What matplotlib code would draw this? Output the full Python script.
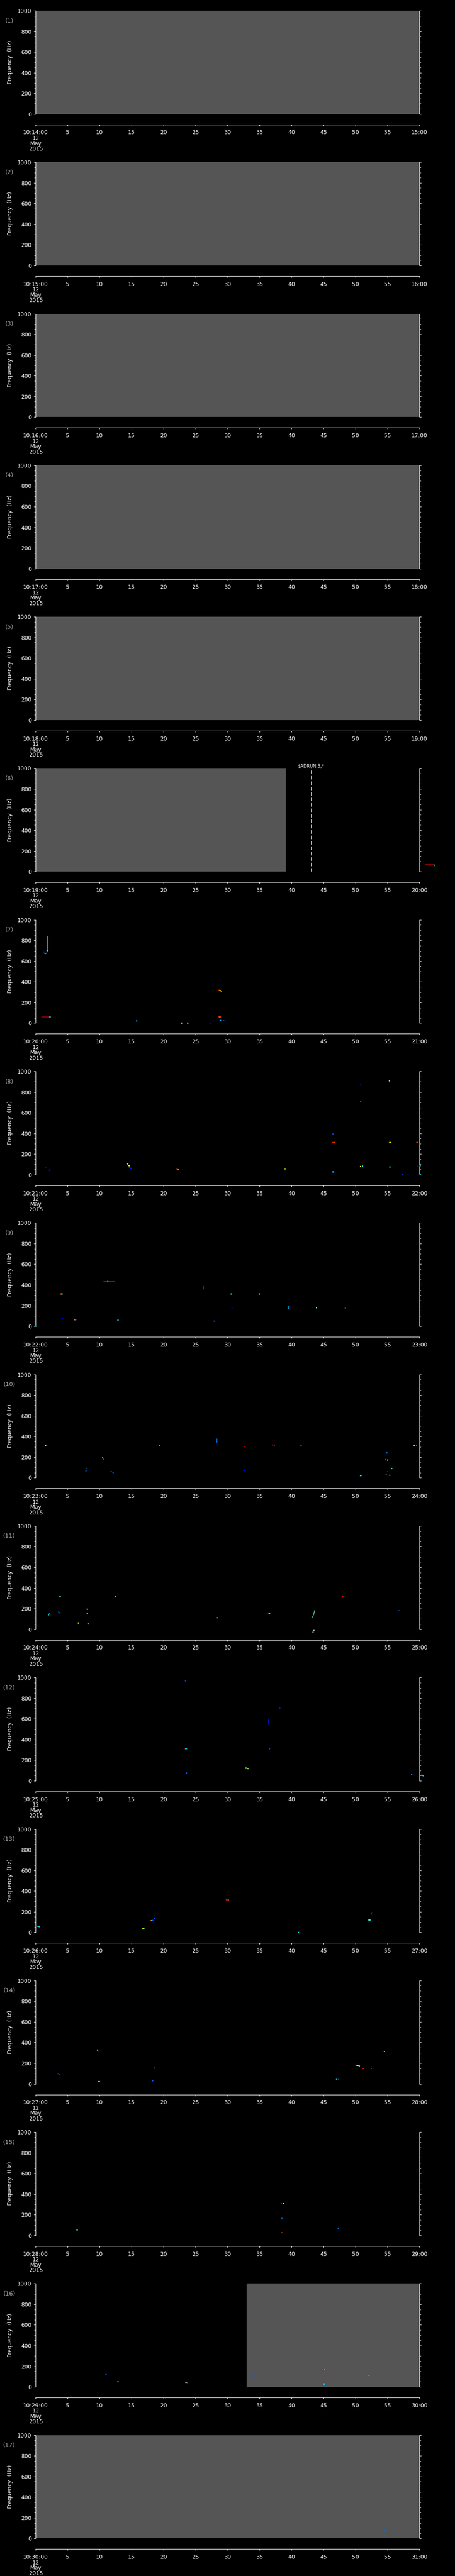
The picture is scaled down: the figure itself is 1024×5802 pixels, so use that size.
import matplotlib
matplotlib.use("Agg")
import matplotlib.pyplot as plt
from matplotlib.ticker import MultipleLocator, FixedLocator

plt.rcParams['font.family'] = ['DejaVu Sans']
plt.rcParams['lines.scale_dashes'] = False

# panel start minutes (10:14 ... 10:30, 12 May 2015)
start_minutes = list(range(14, 31))

# grey "no data" spans per panel number, seconds
grey_spans = {1: (0, 60), 2: (0, 60), 3: (0, 60), 4: (0, 60), 5: (0, 60),
              6: (0, 39.1), 16: (33.0, 60), 17: (0, 60)}

# event marker in panel 6
event_time = 43.05
event_label = "$ADRUN,3,*"

# spectrogram dots: seconds, Hz, colour level (jet 0..1)
dot_times = {
    6: [62.3, 62.3],
    7: [1.3, 1.45, 1.6, 1.7, 1.8, 2.25, 2.3, 15.8, 22.8, 23.8, 27.3, 28.7, 28.85, 29.0,
        28.7, 28.9, 29.1, 28.9, 29.1, 29.4],
    8: [1.6, 2.2, 14.4, 14.6, 14.7, 14.9, 22.1, 22.3, 39.0, 46.5, 46.5, 46.7, 46.5, 46.8,
        50.8, 50.8, 50.8, 51.1, 55.3, 55.3, 55.45, 55.4, 57.3, 59.6, 59.8, 59.8, 60.1, 60.1],
    9: [11.3, 4.0, 4.15, 30.6, 35.0, 30.7, 43.9, 48.4, 4.2, 6.1, 6.3, 12.9, 27.8, 28.0, 0.1],
    10: [1.6, 19.4, 32.6, 37.0, 37.3, 41.5, 59.2, 59.5, 10.5, 10.6, 8.0, 7.9, 11.8, 12.1,
         32.6, 50.8, 51.0, 54.8, 54.9, 54.7, 55.0, 55.7, 55.0, 54.8, 55.3, 55.5],
    11: [3.7, 3.85, 3.6, 3.8, 12.5, 8.1, 8.1, 6.7, 8.3, 28.4, 36.4, 36.6, 48.0, 48.2, 56.8],
    12: [23.4, 38.2, 23.4, 23.6, 36.6, 32.9, 33.2, 23.6, 58.8, 60.4, 60.6],
    13: [0.4, 0.6, 16.7, 16.9, 18.1, 18.3, 18.6, 29.8, 30.1, 41.1, 52.1, 52.3],
    14: [3.5, 3.7, 9.7, 9.9, 9.8, 10.0, 10.2, 18.6, 18.3, 47.0, 47.3, 50.1, 50.4, 50.6,
         51.2, 52.5, 54.3, 54.5],
    15: [6.5, 38.4, 38.7, 38.5, 38.5, 47.3],
    16: [11.0, 12.9, 23.5, 23.7, 33.9, 45.2, 45.0, 45.1, 45.3, 52.1],
    17: [54.5],
}
dot_freqs = {
    6: [62, 57],
    7: [690, 673, 673, 690, 700, 61, 56, 21, 0, 0, 0, 319, 316, 304,
        61, 59, 57, 26, 26, 24],
    8: [72, 43, 104, 88, 72, 62, 56, 53, 56, 395, 310, 310, 26, 22,
        867, 709, 78, 83, 909, 310, 310, 74, 2, 310, 317, 82, 85, 2],
    9: [432, 312, 312, 312, 312, 173, 178, 173, 77, 62, 62, 59, 48, 50, 0],
    10: [314, 312, 302, 317, 310, 309, 314, 314, 194, 181, 91, 66, 61, 51,
         70, 22, 22, 242, 240, 176, 171, 90, 58, 29, 24, 23],
    11: [320, 320, 168, 160, 317, 194, 155, 61, 51, 112, 154, 154, 315, 315, 179],
    12: [966, 704, 309, 309, 309, 123, 117, 74, 61, 54, 50],
    13: [56, 54, 40, 38, 112, 114, 136, 317, 312, 0, 120, 118],
    14: [99, 89, 327, 316, 23, 23, 23, 153, 31, 48, 48, 179, 179, 173,
         148, 148, 311, 311],
    15: [53, 308, 308, 170, 25, 64],
    16: [120, 51, 43, 41, 99, 168, 66, 28, 28, 112],
    17: [76],
}
dot_levels = {
    6: [0.4, 0.4],
    7: [0.3, 0.3, 0.25, 0.3, 0.35, 0.4, 0.4, 0.3, 0.4, 0.4, 0.15, 0.85, 0.65, 0.85,
        0.85, 0.85, 0.2, 0.3, 0.35, 0.2],
    8: [0.15, 0.15, 0.5, 0.65, 0.2, 0.15, 0.85, 0.35, 0.65, 0.2, 0.9, 0.85, 0.35, 0.2,
        0.2, 0.2, 0.65, 0.4, 0.5, 0.8, 0.65, 0.35, 0.2, 0.85, 0.2, 0.2, 0.35, 0.35],
    9: [0.35, 0.8, 0.4, 0.35, 0.45, 0.15, 0.45, 0.6, 0.15, 0.8, 0.2, 0.35, 0.15, 0.2, 0.35],
    10: [0.65, 0.8, 0.9, 0.88, 0.4, 0.88, 0.5, 0.88, 0.65, 0.2, 0.4, 0.2, 0.35, 0.2,
         0.15, 0.35, 0.2, 0.2, 0.25, 0.9, 0.35, 0.4, 0.2, 0.5, 0.2, 0.15],
    11: [0.5, 0.45, 0.2, 0.2, 0.4, 0.35, 0.4, 0.65, 0.3, 0.3, 0.88, 0.4, 0.88, 0.4, 0.25],
    12: [0.2, 0.15, 0.8, 0.3, 0.2, 0.6, 0.5, 0.2, 0.25, 0.35, 0.3],
    13: [0.35, 0.3, 0.65, 0.5, 0.7, 0.2, 0.2, 0.9, 0.8, 0.35, 0.45, 0.35],
    14: [0.15, 0.2, 0.75, 0.25, 0.6, 0.3, 0.2, 0.4, 0.2, 0.4, 0.2, 0.7, 0.6, 0.4,
         0.88, 0.2, 0.88, 0.4],
    15: [0.38, 0.88, 0.65, 0.25, 0.8, 0.25],
    16: [0.2, 0.8, 0.65, 0.2, 0.2, 0.4, 0.2, 0.35, 0.2, 0.35],
    17: [0.25],
}

# short streaks: (panel, [times], [freqs], level)
streaks = [
    (6, [60.9, 62.2], [68, 68], 0.92),
    (7, [1.85, 1.85], [701, 844], 0.45),
    (7, [0.9, 2.1], [64, 64], 0.92),
    (9, [10.6, 12.3], [435, 435], 0.2),
    (9, [26.2, 26.2], [360, 387], 0.25),
    (9, [39.5, 39.5], [173, 192], 0.3),
    (10, [28.2, 28.35, 28.35], [336, 346, 376], 0.25),
    (11, [2.05, 2.15], [136, 152], 0.35),
    (11, [43.3, 43.5, 43.6], [118, 150, 180], 0.45),
    (12, [36.4, 36.4], [547, 600], 0.15),
    (13, [52.45, 52.55], [173, 192], 0.2),
]

# white flag marks under panel 11
flag_times = [43.5, 43.35]
flag_freqs = [-12, -28]

W, H = 1024, 5802
pitch = H / 17
cmap = plt.get_cmap('jet')
grey = '#555555'
px = 0.72  # points per pixel at dpi 100

fig = plt.figure(figsize=(W / 100, H / 100), dpi=100, facecolor='black')

for i, minute in enumerate(start_minutes):
    n = i + 1
    top = 24 + i * pitch
    ax = fig.add_axes([80 / W, 1 - (top + 232.7) / H, 864 / W, 232.7 / H])
    ax.set_facecolor('black')
    ax.set_xlim(0, 60)
    ax.set_ylim(0, 1000)

    if n in grey_spans:
        a, b = grey_spans[n]
        ax.axvspan(a, b, color=grey, lw=0, zorder=0)

    if n == 6:
        ax.axvline(event_time, color='white', lw=0.8, dashes=(5.8, 3.0))
        ax.text(event_time, 1000, event_label, color='white', fontsize=7,
                ha='center', va='bottom', transform=ax.transData)

    if n in dot_times:
        ax.scatter(dot_times[n], dot_freqs[n], c=[cmap(v) for v in dot_levels[n]],
                   marker='s', s=3.5, linewidths=0, clip_on=False, zorder=3)
    for pn, ts, fs, lev in streaks:
        if pn == n:
            ax.plot(ts, fs, color=cmap(lev), lw=1.0, clip_on=False, zorder=3)
    if n == 11:
        ax.scatter(flag_times, flag_freqs, c='white', marker='x', s=4,
                   linewidths=0.6, clip_on=False, zorder=3)

    # spines: left + right with ticks, bottom moved down as the time axis
    ax.spines['top'].set_visible(False)
    for side in ['left', 'right', 'bottom']:
        ax.spines[side].set_color('white')
        ax.spines[side].set_linewidth(0.8)
    ax.spines['bottom'].set_position(('outward', 24 * px))

    ax.yaxis.set_major_locator(FixedLocator([0, 200, 400, 600, 800, 1000]))
    ax.yaxis.set_minor_locator(MultipleLocator(50))
    ax.tick_params(axis='y', which='major', direction='out', length=4 * px, width=0.8,
                   colors='white', labelsize=9, pad=5 * px, right=True)
    ax.tick_params(axis='y', which='minor', direction='out', length=3 * px, width=0.8,
                   colors='white', right=True)
    ax.tick_params(axis='y', which='both', labelright=False)

    xt = list(range(0, 61, 5))
    labels = ["10:%02d:00" % minute] + [str(s) for s in xt[1:-1]] + ["%02d:00" % (minute + 1)]
    ax.set_xticks(xt)
    ax.set_xticklabels(labels)
    ax.tick_params(axis='x', direction='out', length=3 * px, width=0.8, colors='white',
                   labelsize=9, pad=6.3)

    # date under the first time label
    for dy, txt in [(291, "12"), (302.5, "May"), (315, "2015")]:
        fig.text(81 / W, 1 - (top + dy) / H, txt, color='white', fontsize=9,
                 ha='center', va='baseline')

    fig.text(23 / W, 1 - (top + 116) / H, "Frequency  (Hz)", color='white',
             fontsize=9, rotation=90, ha='center', va='center')
    fig.text(21 / W, 1 - (top + 23) / H, "(%d)" % n, color='#aaaaaa',
             fontsize=9.5, ha='center', va='center')

fig.savefig("out.png", dpi=100, facecolor='black')
